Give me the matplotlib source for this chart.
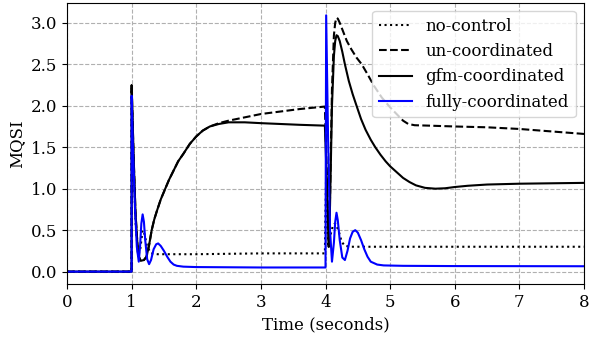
import matplotlib
matplotlib.use("Agg")
import matplotlib.pyplot as plt

plt.rcParams['font.family'] = ['DejaVu Serif']
plt.rcParams['mathtext.fontset'] = 'dejavuserif'

# ---- data ----
t_nc = [0, 0.999, 1.0, 1.03, 1.06, 1.1, 1.13, 1.17, 1.2, 1.24, 1.3, 1.4, 2.0, 3.0, 3.99,
        4.01, 4.04, 4.08, 4.12, 4.15, 4.2, 4.25, 4.3, 4.4, 5.0, 6.0, 7.0, 8.0]
v_nc = [0, 0, 2.2, 1.3, 0.6, 0.2, 0.25, 0.5, 0.45, 0.3, 0.22, 0.21, 0.21, 0.22, 0.22,
        1.2, 0.3, 0.45, 0.57, 0.58, 0.5, 0.36, 0.31, 0.30, 0.30, 0.30, 0.30, 0.30]

t_un = [0, 0.999, 1.0, 1.03, 1.06, 1.1, 1.14, 1.19, 1.23, 1.27, 1.31, 1.35, 1.39, 1.45, 1.52,
        1.58, 1.65, 1.72, 1.8, 1.9, 2.0, 2.1, 2.21, 2.35, 2.5, 2.75, 3.0, 3.3, 3.6, 3.99,
        4.02, 4.05, 4.07, 4.10, 4.13, 4.15, 4.17, 4.19, 4.22, 4.27, 4.33, 4.4, 4.48, 4.56,
        4.65, 4.75, 4.87, 5.0, 5.1, 5.2, 5.28, 5.38, 5.6, 6.0, 6.5, 7.0, 7.5, 8.0]
v_un = [0, 0, 2.25, 1.4, 0.7, 0.2, 0.13, 0.14, 0.18, 0.32, 0.5, 0.63, 0.73, 0.87, 1.0,
        1.11, 1.22, 1.33, 1.42, 1.54, 1.63, 1.70, 1.75, 1.79, 1.82, 1.86, 1.90, 1.93, 1.96, 1.99,
        1.2, 0.3, 0.9, 2.2, 2.85, 3.0, 3.06, 3.05, 3.0, 2.9, 2.78, 2.68, 2.58, 2.5,
        2.38, 2.24, 2.1, 1.98, 1.9, 1.82, 1.78, 1.765, 1.76, 1.75, 1.74, 1.72, 1.69, 1.66]

t_gfm = [0, 0.999, 1.0, 1.03, 1.06, 1.1, 1.14, 1.19, 1.23, 1.27, 1.31, 1.35, 1.39, 1.45, 1.52,
         1.58, 1.65, 1.72, 1.8, 1.9, 2.0, 2.1, 2.21, 2.35, 2.5, 2.75, 3.0, 3.3, 3.6, 3.99,
         4.02, 4.05, 4.07, 4.10, 4.13, 4.15, 4.17, 4.19, 4.22, 4.26, 4.3, 4.36, 4.42, 4.48,
         4.55, 4.62, 4.7, 4.77, 4.85, 4.93, 5.0, 5.1, 5.2, 5.3, 5.4, 5.54, 5.7, 5.85, 6.0,
         6.2, 6.5, 7.0, 7.5, 8.0]
v_gfm = [0, 0, 2.25, 1.4, 0.7, 0.2, 0.13, 0.14, 0.18, 0.32, 0.5, 0.63, 0.73, 0.87, 1.0,
         1.11, 1.22, 1.33, 1.42, 1.54, 1.63, 1.70, 1.75, 1.78, 1.80, 1.80, 1.79, 1.78, 1.77, 1.76,
         1.1, 0.3, 0.8, 2.0, 2.6, 2.78, 2.85, 2.84, 2.78, 2.65, 2.5, 2.3, 2.14, 2.0,
         1.84, 1.71, 1.59, 1.50, 1.41, 1.33, 1.27, 1.20, 1.13, 1.08, 1.04, 1.01, 1.0, 1.005, 1.02,
         1.035, 1.05, 1.06, 1.065, 1.07]

t_fc = [0, 0.999, 1.0, 1.02, 1.05, 1.08, 1.11, 1.13, 1.15, 1.17, 1.19, 1.21, 1.24, 1.27, 1.30,
        1.34, 1.38, 1.41, 1.45, 1.5, 1.55, 1.6, 1.65, 1.7, 1.8, 2.0, 3.0, 4.0,
        4.01, 4.04, 4.07, 4.10, 4.13, 4.15, 4.17, 4.19, 4.22, 4.26, 4.30, 4.34, 4.38, 4.42,
        4.46, 4.50, 4.55, 4.6, 4.65, 4.7, 4.8, 4.9, 5.2, 6.0, 8.0]
v_fc = [0, 0, 2.12, 1.5, 0.8, 0.3, 0.12, 0.3, 0.58, 0.69, 0.6, 0.38, 0.15, 0.09, 0.14,
        0.27, 0.33, 0.34, 0.31, 0.25, 0.18, 0.12, 0.085, 0.07, 0.06, 0.055, 0.05, 0.05,
        3.09, 1.6, 0.5, 0.12, 0.35, 0.6, 0.71, 0.62, 0.38, 0.17, 0.14, 0.25, 0.4, 0.48,
        0.50, 0.47, 0.38, 0.27, 0.18, 0.12, 0.085, 0.075, 0.07, 0.067, 0.065]

labels = ["no-control", "un-coordinated", "gfm-coordinated", "fully-coordinated"]

fig = plt.figure(figsize=(5.89, 3.39), dpi=100)
ax = fig.add_axes([0.1138, 0.1608, 0.8777, 0.8312])
ax.plot(t_nc, v_nc, color='black', linestyle=':', lw=1.5, label=labels[0])
ax.plot(t_un, v_un, color='black', linestyle='--', lw=1.5, label=labels[1])
ax.plot(t_gfm, v_gfm, color='black', linestyle='-', lw=1.5, label=labels[2])
ax.plot(t_fc, v_fc, color='blue', linestyle='-', lw=1.5, label=labels[3])

ax.set_xlim(0, 8)
ax.set_ylim(-0.155, 3.242)
ax.set_xticks(range(0, 9))
ax.set_yticks([0.0, 0.5, 1.0, 1.5, 2.0, 2.5, 3.0])
ax.tick_params(labelsize=12)
ax.grid(True, linestyle='--', color='#b0b0b0', lw=0.8)
ax.set_xlabel("Time (seconds)", fontsize=12)
ax.set_ylabel("MQSI", fontsize=12)
ax.legend(loc='upper right', fontsize=12, handlelength=2.0)

fig.savefig("out.png", dpi=100)
